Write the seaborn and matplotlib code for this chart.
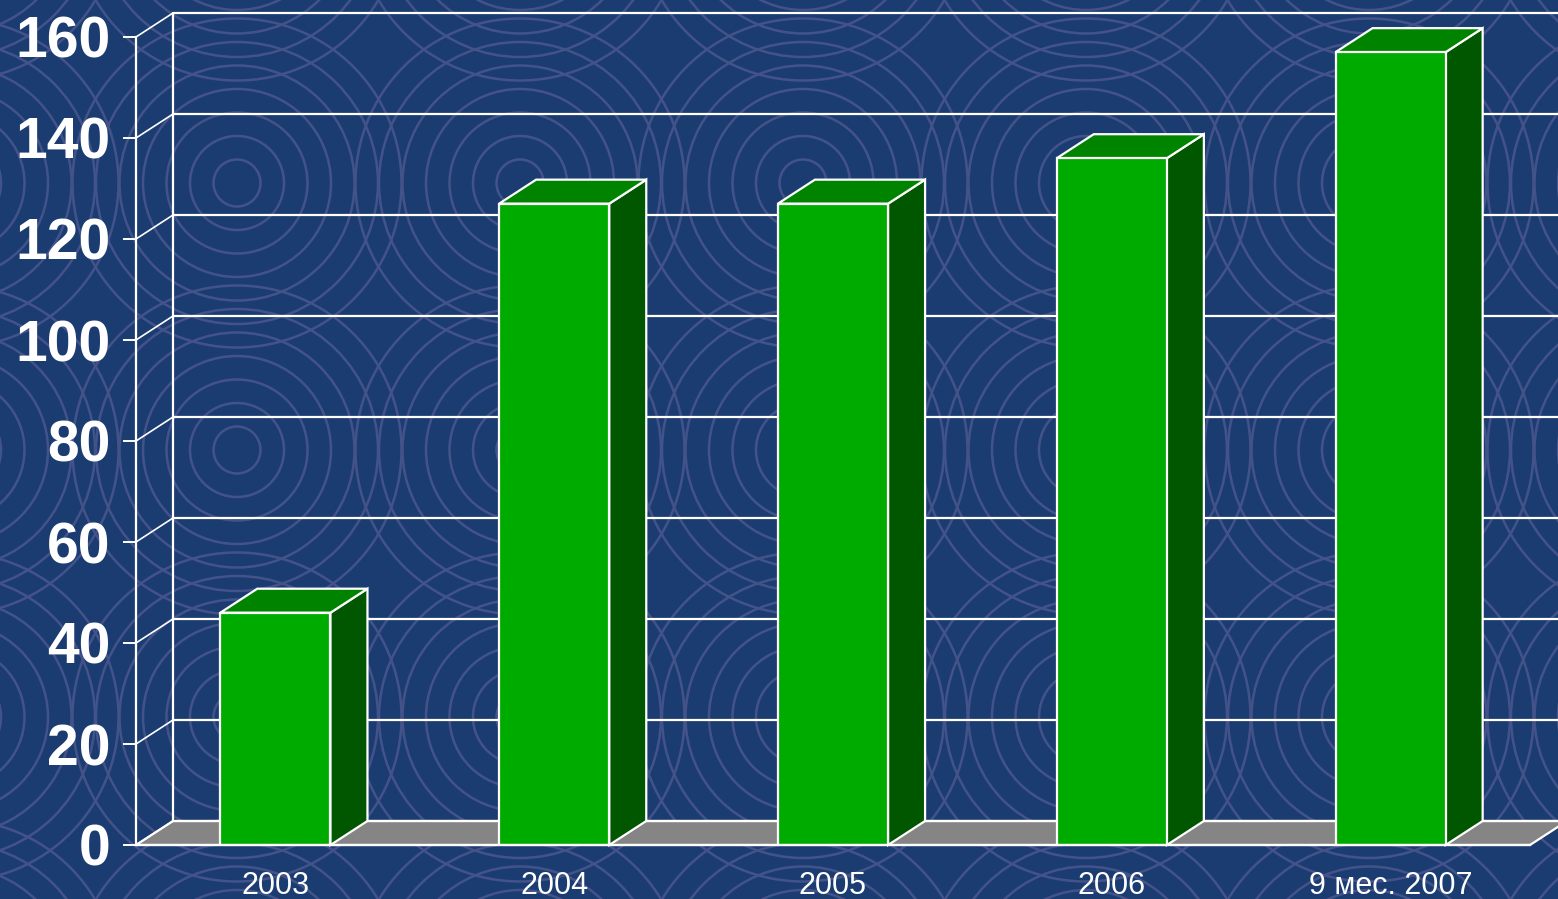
import numpy as np
import matplotlib
matplotlib.use('Agg')
import matplotlib.pyplot as plt
from matplotlib.patches import Circle, Polygon
import seaborn as sns

categories = ['2003', '2004', '2005', '2006', '9 мес. 2007']
values = [46, 127, 127, 136, 157]
yticks = [0, 20, 40, 60, 80, 100, 120, 140, 160]

bg_color = '#1b3c71'
ring_color = '#43538a'
front_color = '#00ab00'
side_color = '#005700'
top_color = '#008400'
floor_color = '#858585'

sns.set_style('white')
plt.rcParams['font.family'] = ['Liberation Sans', 'DejaVu Sans']

fig = plt.figure(figsize=(15.58, 8.99), dpi=100, facecolor=bg_color)

# background pattern (pixel coordinates)
ax_bg = fig.add_axes([0, 0, 1, 1], zorder=-5)
ax_bg.set_xlim(0, 1558)
ax_bg.set_ylim(899, 0)
ax_bg.axis('off')
for cx in 237 + 283 * np.arange(-1, 6):
    for cy in 183 + 267 * np.arange(-1, 4):
        for r in np.arange(23.5, 185, 23.5):
            ax_bg.add_patch(Circle((cx, cy), r, fill=False, ec=ring_color, lw=1.8))

ax = fig.add_axes([136 / 1558, 54 / 899, 1394 / 1558, 808 / 899])
ax.set_facecolor('none')

sns.barplot(x=categories, y=values, order=categories, width=0.395, color=front_color,
            saturation=1, edgecolor='white', linewidth=1.6, ax=ax, zorder=4)

ax.set_xlim(-0.5, 4.5)
ax.set_ylim(0, 160)

# depth offset of the fake 3d look
dx = 37 / 278.8
dy = 24 / 5.05

# floor
ax.add_patch(Polygon([(-0.5, 0), (4.5, 0), (4.5 + dx, dy), (-0.5 + dx, dy)], closed=True,
                     fc=floor_color, ec='white', lw=1.6, zorder=1, clip_on=False))

# back wall grid
for v in yticks:
    ax.plot([-0.5 + dx, 4.5 + dx + 0.2], [v + dy, v + dy], color='white', lw=1.6, zorder=1.5, clip_on=False)
    ax.plot([-0.5, -0.5 + dx], [v, v + dy], color='white', lw=1.2, zorder=1.5, clip_on=False)
ax.plot([-0.5 + dx, -0.5 + dx], [dy, 160 + dy], color='white', lw=1.6, zorder=1.5, clip_on=False)

# sides and tops of the bars
for p in list(ax.patches):
    if not hasattr(p, 'get_width') or p.get_height() <= 0 or p.get_facecolor()[:3] != matplotlib.colors.to_rgb(front_color):
        continue
    x0 = p.get_x()
    x1 = x0 + p.get_width()
    h = p.get_height()
    ax.add_patch(Polygon([(x1, 0), (x1 + dx, dy), (x1 + dx, h + dy), (x1, h)], closed=True,
                         fc=side_color, ec='white', lw=1.6, zorder=3.5, clip_on=False))
    ax.add_patch(Polygon([(x0, h), (x1, h), (x1 + dx, h + dy), (x0 + dx, h + dy)], closed=True,
                         fc=top_color, ec='white', lw=1.6, zorder=3.5, clip_on=False))

ax.set_yticks(yticks)
ax.set_yticklabels([str(v) for v in yticks], fontsize=41, fontweight='bold', color='white')
ax.set_xticks(range(len(categories)))
ax.set_xticklabels(categories, fontsize=22, color='white')
ax.set_xticks(np.arange(-0.5, len(categories)), minor=True)
ax.tick_params(axis='x', which='major', length=0, pad=19)
ax.tick_params(axis='x', which='minor', length=9, width=1.4, color='white', direction='out')
ax.tick_params(axis='y', length=9.5, width=1.4, color='white', direction='out', pad=9, left=True)
ax.set_xlabel('')
ax.set_ylabel('')

for s in ['top', 'right']:
    ax.spines[s].set_visible(False)
for s in ['left', 'bottom']:
    ax.spines[s].set_color('white')
    ax.spines[s].set_linewidth(1.6)
    ax.spines[s].set_zorder(5)

fig.savefig('out.png', dpi=100, facecolor=bg_color)
